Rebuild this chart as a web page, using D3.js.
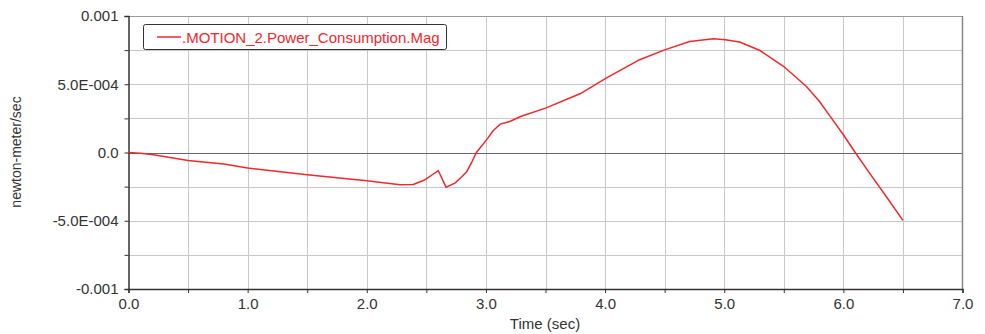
<!DOCTYPE html>
<html lang="en">
<head>
    <meta charset="utf-8" />
    <title>Power Consumption</title>
    <script src="https://d3js.org/d3.v7.min.js"></script>
    <style>
        body { margin: 0; background: #fff; }
        text { font-family: "Liberation Sans", Arial, sans-serif; fill: #333; }
        .grid line { stroke: #c8c8c8; stroke-width: 1px; }
    </style>
</head>
<body>
    <script>
        // time (sec) and magnitude (newton-meter/sec)
        var times = [0, 0.1, 0.21, 0.5, 0.8, 1.0, 1.5, 2.0, 2.28, 2.39, 2.47, 2.50, 2.55, 2.60, 2.665, 2.74, 2.80,
            2.84, 2.88, 2.92, 3.01, 3.06, 3.12, 3.20, 3.29, 3.50, 3.79, 4.02, 4.29, 4.50, 4.71, 4.91, 5.01, 5.13,
            5.30, 5.50, 5.69, 5.80, 5.90, 6.00, 6.10, 6.22, 6.36, 6.50];
        var values = [0, -0.05e-4, -0.17e-4, -0.59e-4, -0.85e-4, -1.14e-4, -1.63e-4, -2.07e-4, -2.37e-4, -2.34e-4,
            -2.07e-4, -1.93e-4, -1.63e-4, -1.32e-4, -2.54e-4, -2.24e-4, -1.76e-4, -1.39e-4, -0.73e-4, 0, 0.98e-4,
            1.59e-4, 2.08e-4, 2.27e-4, 2.64e-4, 3.25e-4, 4.3e-4, 5.5e-4, 6.8e-4, 7.52e-4, 8.13e-4, 8.33e-4,
            8.26e-4, 8.09e-4, 7.47e-4, 6.3e-4, 4.84e-4, 3.74e-4, 2.52e-4, 1.30e-4, 0, -1.51e-4, -3.22e-4, -4.97e-4];
        var xTickLabels = ["0.0", "1.0", "2.0", "3.0", "4.0", "5.0", "6.0", "7.0"];
        var yTickLabels = ["-0.001", "-5.0E-004", "0.0", "5.0E-004", "0.001"];
        var seriesName = ".MOTION_2.Power_Consumption.Mag";

        var width = 985, height = 334;
        var pLeft = 128.5, pRight = 962.5, pTop = 16, pBottom = 289;

        var svg = d3.select("body").append("svg")
            .attr("width", width)
            .attr("height", height);

        var x = d3.scaleLinear().domain([0, 7]).range([pLeft, pRight]);
        var y = d3.scaleLinear().domain([-0.001, 0.001]).range([pBottom, pTop]);

        var xMinor = d3.range(0, 7.01, 0.5);
        var yMinor = d3.range(-0.001, 0.00101, 0.00025);

        // grid
        var grid = svg.append("g").attr("class", "grid");
        grid.selectAll(".vx").data(xMinor.slice(1, -1)).enter().append("line")
            .attr("x1", function (d) { return Math.round(x(d)) + 0.5; })
            .attr("x2", function (d) { return Math.round(x(d)) + 0.5; })
            .attr("y1", pTop).attr("y2", pBottom);
        grid.selectAll(".hy").data(yMinor.slice(1, -1)).enter().append("line")
            .attr("y1", function (d) { return Math.round(y(d)) + 0.5; })
            .attr("y2", function (d) { return Math.round(y(d)) + 0.5; })
            .attr("x1", pLeft).attr("x2", pRight)
            .style("stroke", function (d) { return Math.abs(d) < 1e-9 ? "#666" : null; });

        // frame
        svg.append("line").attr("x1", pLeft).attr("x2", pRight).attr("y1", pTop + 0.5).attr("y2", pTop + 0.5)
            .style("stroke", "#999");
        svg.append("line").attr("x1", pRight).attr("x2", pRight).attr("y1", pTop).attr("y2", pBottom)
            .style("stroke", "#888").style("stroke-width", 1.5);

        // axes
        var xAxis = d3.axisBottom(x).tickValues(xMinor).tickSize(4)
            .tickFormat(function (d) { return Math.abs(d % 1) < 1e-9 ? xTickLabels[Math.round(d)] : ""; });
        var gx = svg.append("g").attr("transform", "translate(0," + pBottom + ")").call(xAxis);
        gx.select(".domain").attr("stroke", "#333").attr("stroke-width", 1.5);
        gx.selectAll(".tick line").attr("stroke", "#333");
        gx.selectAll("text").style("font-size", "15px").attr("dy", "0.85em");

        var yAxis = d3.axisLeft(y).tickValues(yMinor).tickSize(4)
            .tickFormat(function (d) {
                var k = Math.round(d / 0.0005);
                return Math.abs(d / 0.0005 - k) < 1e-6 ? yTickLabels[k + 2] : "";
            });
        var gy = svg.append("g").attr("transform", "translate(" + pLeft + ",0)").call(yAxis);
        gy.select(".domain").attr("stroke", "#333").attr("stroke-width", 1.5);
        gy.selectAll(".tick line").attr("stroke", "#333");
        gy.selectAll("text").style("font-size", "15px").attr("x", -10);

        // axis titles
        svg.append("text").attr("x", 545).attr("y", 329).attr("text-anchor", "middle")
            .style("font-size", "15px").text("Time (sec)");
        svg.append("text").attr("transform", "translate(21,152) rotate(-90)").attr("text-anchor", "middle")
            .style("font-size", "14px").text("newton-meter/sec");

        // curve
        var data = times.map(function (t, i) { return [t, values[i]]; });
        var line = d3.line().x(function (d) { return x(d[0]); }).y(function (d) { return y(d[1]); });
        svg.append("path").datum(data).attr("d", line)
            .attr("fill", "none").attr("stroke", "#f0282d").attr("stroke-width", 1.5);

        // legend
        var lg = svg.append("g");
        lg.append("rect").attr("x", 143.5).attr("y", 24.5).attr("width", 303).attr("height", 25).attr("rx", 2)
            .attr("fill", "#fff").attr("stroke", "#333");
        lg.append("line").attr("x1", 157).attr("x2", 181).attr("y1", 37).attr("y2", 37)
            .attr("stroke", "#f0282d").attr("stroke-width", 1.5);
        lg.append("text").attr("x", 182).attr("y", 42.5).style("font-size", "15px").style("fill", "#f0282d")
            .text(seriesName);
    </script>
</body>
</html>
